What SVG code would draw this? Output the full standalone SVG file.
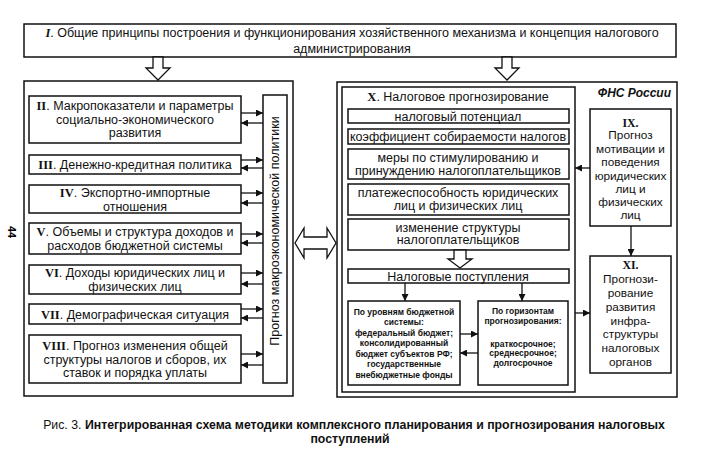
<svg xmlns="http://www.w3.org/2000/svg" width="701" height="467" viewBox="0 0 701 467">
<style>
  .box{fill:#fff;stroke:#111;stroke-width:1.5}
  .panel{fill:none;stroke:#111;stroke-width:1.5}
  .hollow{fill:#fff;stroke:#111;stroke-width:1.3;stroke-linejoin:miter}
  .t{font-family:"Liberation Sans",Arial,sans-serif;font-size:12.5px;fill:#111;text-anchor:middle}
  .r{font-family:"Liberation Serif","Times New Roman",serif;font-weight:bold}
  .s{font-family:"Liberation Sans",Arial,sans-serif;font-size:8.5px;fill:#111;text-anchor:middle;font-weight:bold}
  .c{font-family:"Liberation Sans",Arial,sans-serif;font-size:12.3px;fill:#111;text-anchor:middle}
  .n{font-size:11.8px}
  .conn line{stroke:#111;stroke-width:1.3;marker-end:url(#ah)}
</style>
<defs>
  <marker id="ah" viewBox="0 0 10 10" refX="10" refY="5" markerWidth="8" markerHeight="7" markerUnits="userSpaceOnUse" orient="auto">
    <path d="M0,0 L10,5 L0,10 z" fill="#111"/>
  </marker>
</defs>
<rect width="701" height="467" fill="#fff"/>

<text x="8" y="232" font-family="Liberation Sans,Arial,sans-serif" font-size="11" font-weight="bold" text-anchor="middle" transform="rotate(90 8 232)">44</text>

<g id="node-I">
  <rect class="box" x="24" y="24" width="652" height="33"/>
  <text class="t" x="352" y="37" font-size="12.2"><tspan class="r" font-style="italic">I</tspan>. Общие принципы построения и функционирования хозяйственного механизма и концепция налогового</text>
  <text class="t" x="352" y="53" font-size="12.2">администрирования</text>
</g>

<g id="left-panel">
  <rect class="panel" x="24" y="81" width="269" height="315"/>
</g>
<g id="right-panel">
  <rect class="panel" x="337" y="82" width="340" height="315"/>
  <text x="671" y="97" font-family="Liberation Sans,Arial,sans-serif" font-size="12" font-weight="bold" font-style="italic" text-anchor="end" fill="#111">ФНС России</text>
</g>

<g id="node-II">
  <rect class="box" x="29" y="96" width="212" height="47"/>
  <text class="t" x="135" y="110"><tspan class="r">II</tspan>. Макропоказатели и параметры</text>
  <text class="t" x="135" y="123.5">социально-экономического</text>
  <text class="t" x="135" y="137">развития</text>
</g>
<g id="node-III">
  <rect class="box" x="29" y="155" width="212" height="19"/>
  <text class="t" x="135" y="169"><tspan class="r">III</tspan>. Денежно-кредитная политика</text>
</g>
<g id="node-IV">
  <rect class="box" x="29" y="185" width="212" height="28"/>
  <text class="t" x="135" y="197"><tspan class="r">IV</tspan>. Экспортно-импортные</text>
  <text class="t" x="135" y="210.5">отношения</text>
</g>
<g id="node-V">
  <rect class="box" x="29" y="223" width="212" height="31"/>
  <text class="t" x="135" y="236"><tspan class="r">V</tspan>. Объемы и структура доходов и</text>
  <text class="t" x="135" y="249.5">расходов бюджетной системы</text>
</g>
<g id="node-VI">
  <rect class="box" x="29" y="265" width="212" height="29"/>
  <text class="t" x="135" y="277"><tspan class="r">VI</tspan>. Доходы юридических лиц и</text>
  <text class="t" x="135" y="290.5">физических лиц</text>
</g>
<g id="node-VII">
  <rect class="box" x="29" y="304" width="212" height="20"/>
  <text class="t" x="135" y="318.5"><tspan class="r">VII</tspan>. Демографическая ситуация</text>
</g>
<g id="node-VIII">
  <rect class="box" x="29" y="335" width="212" height="48"/>
  <text class="t" x="135" y="350"><tspan class="r">VIII</tspan>. Прогноз изменения общей</text>
  <text class="t" x="135" y="363.5">структуры налогов и сборов, их</text>
  <text class="t" x="135" y="377">ставок и порядка уплаты</text>
</g>
<g id="node-macro">
  <rect class="box" x="263" y="95" width="24" height="288"/>
  <text class="t" x="275" y="235" font-size="11.5" transform="rotate(-90 275 231)">Прогноз макроэкономической политики</text>
</g>

<g id="node-X">
  <rect class="box" x="342" y="87" width="233" height="305"/>
  <text class="t" x="458" y="101"><tspan class="r">X</tspan>. Налоговое прогнозирование</text>
</g>
<g id="node-X1">
  <rect class="box" x="348" y="109" width="221" height="14"/>
  <text class="t" x="458" y="120.5">налоговый потенциал</text>
</g>
<g id="node-X2">
  <rect class="box" x="348" y="129" width="221" height="15"/>
  <text class="t" x="458" y="141">коэффициент собираемости налогов</text>
</g>
<g id="node-X3">
  <rect class="box" x="348" y="149" width="221" height="30"/>
  <text class="t" x="458" y="161.5">меры по стимулированию и</text>
  <text class="t" x="458" y="174.5">принуждению налогоплательщиков</text>
</g>
<g id="node-X4">
  <rect class="box" x="348" y="184" width="221" height="31"/>
  <text class="t" x="458" y="197">платежеспособность юридических</text>
  <text class="t" x="458" y="210">лиц и физических лиц</text>
</g>
<g id="node-X5">
  <rect class="box" x="348" y="219" width="221" height="31"/>
  <text class="t" x="458" y="231.5">изменение  структуры</text>
  <text class="t" x="458" y="244">налогоплательщиков</text>
</g>
<g id="node-X6">
  <rect class="box" x="348" y="269" width="221" height="14"/>
  <text class="t" x="458" y="280.5">Налоговые поступления</text>
</g>
<g id="node-X7">
  <rect class="box" x="348" y="301" width="112" height="84"/>
  <text class="s" x="404" y="314.5">По уровням бюджетной</text>
  <text class="s" x="404" y="325">системы:</text>
  <text class="s" x="404" y="335.5">федеральный бюджет;</text>
  <text class="s" x="404" y="346">консолидированный</text>
  <text class="s" x="404" y="356.5">бюджет субъектов РФ;</text>
  <text class="s" x="404" y="367">государственные</text>
  <text class="s" x="404" y="377.5">внебюджетные фонды</text>
</g>
<g id="node-X8">
  <rect class="box" x="478" y="301" width="90" height="84"/>
  <text class="s" x="523" y="314" font-size="8">По горизонтам</text>
  <text class="s" x="523" y="323.5" font-size="8">прогнозирования:</text>
  <text class="s" x="523" y="346.5" font-size="8">краткосрочное;</text>
  <text class="s" x="523" y="356" font-size="8">среднесрочное;</text>
  <text class="s" x="523" y="365.5" font-size="8">долгосрочное</text>
</g>

<g id="node-IX">
  <rect class="box" x="590" y="109" width="81" height="117"/>
  <text class="t n" x="630.5" y="126.5"><tspan class="r">IX.</tspan></text>
  <text class="t n" x="630.5" y="139">Прогноз</text>
  <text class="t n" x="630.5" y="152.5">мотивации и</text>
  <text class="t n" x="630.5" y="166">поведения</text>
  <text class="t n" x="630.5" y="179.5">юридических</text>
  <text class="t n" x="630.5" y="193">лиц и</text>
  <text class="t n" x="630.5" y="206">физических</text>
  <text class="t n" x="630.5" y="219">лиц</text>
</g>
<g id="node-XI">
  <rect class="box" x="590" y="256" width="81" height="117"/>
  <text class="t n" x="630.5" y="268.5"><tspan class="r">XI.</tspan></text>
  <text class="t n" x="630.5" y="282.5">Прогнози-</text>
  <text class="t n" x="630.5" y="296.5">рование</text>
  <text class="t n" x="630.5" y="310.5">развития</text>
  <text class="t n" x="630.5" y="324.5">инфра-</text>
  <text class="t n" x="630.5" y="338">структуры</text>
  <text class="t n" x="630.5" y="351.5">налоговых</text>
  <text class="t n" x="630.5" y="365.5">органов</text>
</g>

<g id="connectors">
  <polygon class="hollow" points="153,57 163,57 163,68 170,68 158,80 146,68 153,68"/>
  <polygon class="hollow" points="502,57 512,57 512,68 519,68 507,80 495,68 502,68"/>
  <polygon class="hollow" points="454,250 466,250 466,259 472,259 460,268 448,259 454,259"/>
  <polygon class="hollow" points="295,243 304,228 304,237 327,237 327,228 336,243 327,258 327,249 304,249 304,258"/>
  <g class="conn">
    <line x1="241" y1="113" x2="263" y2="113"/>
    <line x1="263" y1="123" x2="241" y2="123"/>
    <line x1="241" y1="160" x2="263" y2="160"/>
    <line x1="263" y1="168" x2="241" y2="168"/>
    <line x1="241" y1="193" x2="263" y2="193"/>
    <line x1="263" y1="203" x2="241" y2="203"/>
    <line x1="241" y1="234" x2="263" y2="234"/>
    <line x1="263" y1="243" x2="241" y2="243"/>
    <line x1="241" y1="273" x2="263" y2="273"/>
    <line x1="263" y1="284" x2="241" y2="284"/>
    <line x1="241" y1="309" x2="263" y2="309"/>
    <line x1="263" y1="318" x2="241" y2="318"/>
    <line x1="241" y1="354" x2="263" y2="354"/>
    <line x1="263" y1="365" x2="241" y2="365"/>
    <line x1="405" y1="283" x2="405" y2="301"/>
    <line x1="522" y1="283" x2="522" y2="301"/>
    <line x1="460" y1="334" x2="478" y2="334"/>
    <line x1="478" y1="353" x2="460" y2="353"/>
    <line x1="590" y1="168" x2="575" y2="168"/>
    <line x1="575" y1="313" x2="590" y2="313"/>
    <line x1="631" y1="226" x2="631" y2="256"/>
  </g>
</g>

<g id="caption">
  <text class="c" x="354" y="429">Рис. 3. <tspan font-weight="bold">Интегрированная схема методики комплексного планирования и прогнозирования налоговых</tspan></text>
  <text class="c" x="350" y="443" font-weight="bold">поступлений</text>
</g>
</svg>
